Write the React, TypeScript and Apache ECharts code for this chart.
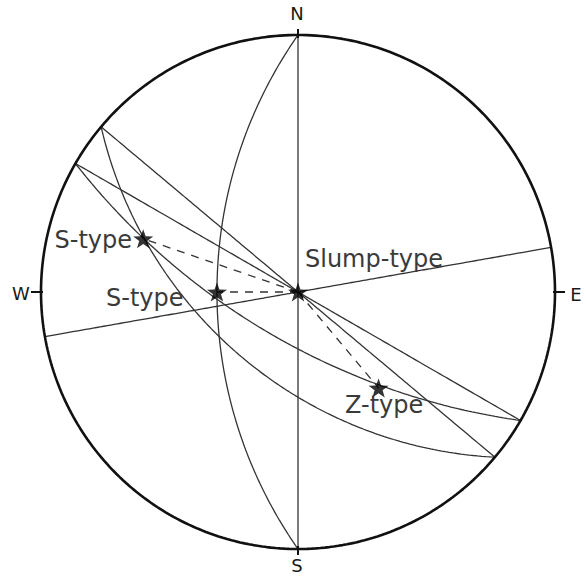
import React, { useEffect, useRef } from "react";
import * as echarts from "echarts";

// Planes (great circles): strike / dip (right-hand rule, lower hemisphere, equal-angle net)
const planeStrikes = [0, 180, 80, 130, 120, 130, 120];
const planeDips = [90, 55, 90, 90, 90, 53, 68];

// Fold axes (stars): trend / plunge
const axisNames = ["Slump-type", "S-type", "S-type", "Z-type"];
const axisTrends = [0, 289, 270, 140];
const axisPlunges = [90, 25, 55, 38];

// Dashed links from the slump-type axis to the other axes
const linkFrom = [0, 0, 0];
const linkTo = [1, 2, 3];

const cardinalLabels = ["N", "E", "S", "W"];

const rad = Math.PI / 180;

function projectVec(e: number, n: number, d: number): [number, number] {
  // Wulff (equal-angle), lower hemisphere
  if (d < 0) {
    e = -e; n = -n; d = -d;
  }
  return [e / (1 + d), n / (1 + d)];
}

function projectLine(trend: number, plunge: number): [number, number] {
  const c = Math.cos(plunge * rad);
  return projectVec(c * Math.sin(trend * rad), c * Math.cos(trend * rad), Math.sin(plunge * rad));
}

function greatCircle(strike: number, dip: number): [number, number][] {
  const s = [Math.sin(strike * rad), Math.cos(strike * rad), 0];
  const dd = (strike + 90) * rad;
  const dv = [Math.sin(dd) * Math.cos(dip * rad), Math.cos(dd) * Math.cos(dip * rad), Math.sin(dip * rad)];
  const pts: [number, number][] = [];
  for (let b = 0; b <= 180; b += 1) {
    const cb = Math.cos(b * rad);
    const sb = Math.sin(b * rad);
    pts.push(projectVec(cb * s[0] + sb * dv[0], cb * s[1] + sb * dv[1], cb * s[2] + sb * dv[2]));
  }
  return pts;
}

function primitive(): [number, number][] {
  const pts: [number, number][] = [];
  for (let a = 0; a <= 360; a += 1) pts.push(projectLine(a, 0));
  return pts;
}

const STAR =
  "path://M0,-10L2.35,-3.24L9.51,-3.09L3.8,1.24L5.88,8.09L0,4L-5.88,8.09L-3.8,1.24L-9.51,-3.09L-2.35,-3.24Z";

export default function App() {
  const ref = useRef<HTMLDivElement>(null);
  useEffect(() => {
    if (!ref.current) return;
    const chart = echarts.init(ref.current, undefined, { renderer: "svg" });

    const lineColor = "#333";
    const series: any[] = [];

    series.push({
      type: "line",
      data: primitive(),
      showSymbol: false,
      symbol: "none",
      lineStyle: { color: "#111", width: 2.6 },
      z: 5,
      clip: false,
      silent: true,
    });

    planeStrikes.forEach((st, i) => {
      series.push({
        type: "line",
        data: greatCircle(st, planeDips[i]),
        showSymbol: false,
        symbol: "none",
        lineStyle: { color: lineColor, width: 1.3 },
        z: 3,
        silent: true,
      });
    });

    linkFrom.forEach((f, i) => {
      const t = linkTo[i];
      series.push({
        type: "line",
        data: [projectLine(axisTrends[f], axisPlunges[f]), projectLine(axisTrends[t], axisPlunges[t])],
        showSymbol: false,
        symbol: "none",
        lineStyle: { color: lineColor, width: 1.3, type: [8, 7] },
        z: 3,
        silent: true,
      });
    });

    series.push({
      type: "scatter",
      data: axisNames.map((n, i) => ({ name: n, value: projectLine(axisTrends[i], axisPlunges[i]) })),
      symbol: STAR,
      symbolSize: 20,
      symbolKeepAspect: true,
      itemStyle: { color: "#000" },
      z: 10,
      silent: true,
    });

    const labelFont = { fontSize: 24, fontFamily: "DejaVu Sans", fill: "#3a3a3a" };
    const cardFont = { fontSize: 18, fontFamily: "DejaVu Sans", fill: "#1a1a1a" };
    const txt = (text: string, x: number, y: number, align: string, f: any) => ({
      type: "text",
      x,
      y,
      z: 20,
      style: {
        text,
        ...f,
        align,
        verticalAlign: "middle",
        textAlign: align,
        textVerticalAlign: "middle",
      },
    });
    const tick = (x1: number, y1: number, x2: number, y2: number) => ({
      type: "line",
      z: 20,
      shape: { x1, y1, x2, y2 },
      style: { stroke: "#111", lineWidth: 2 },
    });

    chart.setOption({
      animation: false,
      backgroundColor: "#fff",
      grid: { left: 41, top: 35, width: 514, height: 514 },
      xAxis: { type: "value", min: -1, max: 1, show: false },
      yAxis: { type: "value", min: -1, max: 1, show: false },
      series,
      graphic: [
        tick(298, 29, 298, 38),
        tick(298, 546, 298, 555),
        tick(31, 292, 43, 292),
        tick(553, 292, 565, 292),
        txt(axisNames[0], 305, 259, "left", labelFont),
        txt(axisNames[1], 132, 240, "right", labelFont),
        txt(axisNames[2], 106, 298, "left", labelFont),
        txt(axisNames[3], 345, 405, "left", labelFont),
        txt(cardinalLabels[0], 297, 13, "center", cardFont),
        txt(cardinalLabels[1], 576, 294, "center", cardFont),
        txt(cardinalLabels[2], 297, 565, "center", cardFont),
        txt(cardinalLabels[3], 21, 293, "center", cardFont),
      ],
    });
    return () => chart.dispose();
  }, []);
  return (
    <div
      ref={ref}
      style={{ position: "fixed", left: 0, top: 0, width: 587, height: 578, background: "#fff" }}
    />
  );
}
